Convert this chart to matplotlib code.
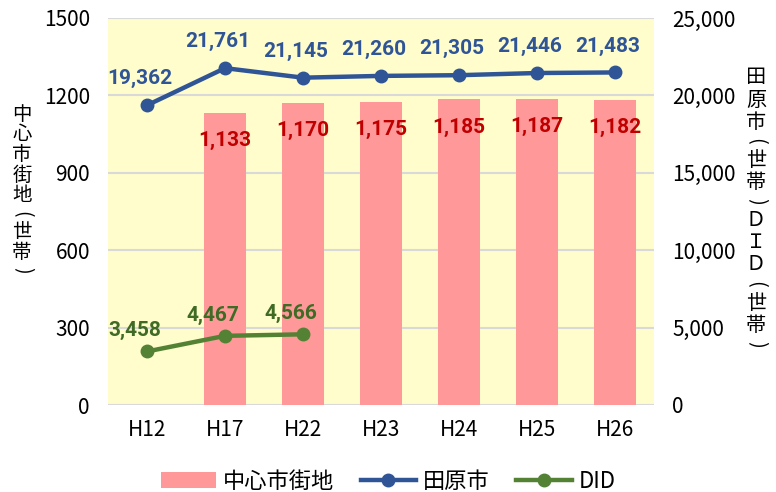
import matplotlib
matplotlib.use("Agg")
import matplotlib.pyplot as plt
import numpy as np

plt.rcParams["font.family"] = ["Noto Sans CJK JP", "DejaVu Sans"]

# --- Data ---
years = ["H12", "H17", "H22", "H23", "H24", "H25", "H26"]
center_hh = [np.nan, 1133, 1170, 1175, 1185, 1187, 1182]      # 中心市街地 (left axis)
tahara_hh = [19362, 21761, 21145, 21260, 21305, 21446, 21483]  # 田原市 (right axis)
did_hh = [3458, 4467, 4566]                                    # DID (right axis), H12-H22 only

left_ticks = [0, 300, 600, 900, 1200, 1500]
right_ticks = [0, 5000, 10000, 15000, 20000, 25000]

BAR = "#FF9999"
BLUE = "#2F5597"
GREEN = "#548235"
LABEL_FONT = ["Roboto", "DejaVu Sans"]
W, H = 776, 492


def vertical_title(chars, x_px, y_top_px, pitch, size):
    # stack characters top-to-bottom; brackets are rotated half-width parens
    weights = [0.75 if c in "()" else 1.0 for c in chars]
    y = y_top_px
    for i, c in enumerate(chars):
        if i > 0:
            y += (weights[i - 1] + weights[i]) / 2 * pitch
        rot = -90 if c in "()" else 0
        fig.text(x_px / W, 1 - y / H, c, ha="center", va="center", fontsize=size,
                 rotation=rot)


fig = plt.figure(figsize=(W / 100, H / 100), dpi=100)
ax = fig.add_axes([108 / W, 1 - 405 / H, 546 / W, 387 / H])
ax2 = ax.twinx()

x = np.arange(len(years))

# --- Bars (left axis) ---
ax.set_facecolor("#FFFDCC")
ax.bar(x, center_hh, width=0.55, color=BAR, zorder=2, label="中心市街地")
for xi, v in zip(x, center_hh):
    if np.isnan(v):
        continue
    ax.annotate(f"{int(v):,}", (xi, v), xytext=(0, -20), textcoords="offset points",
                ha="center", va="center", color="#C00000", fontsize=15,
                fontweight="bold", family=LABEL_FONT, zorder=3)
ax.set_xlim(-0.5, len(years) - 0.5)
ax.set_ylim(0, 1500)
ax.set_yticks(left_ticks)
ax.set_yticklabels([str(t) for t in left_ticks])
ax.set_xticks(x)
ax.set_xticklabels(years)
ax.grid(axis="y", color="#D9D9D9", linewidth=1.5, zorder=1)
ax.set_axisbelow(True)

# --- Lines (right axis) ---
ax2.plot(x, tahara_hh, color=BLUE, linewidth=3.2, marker="o", markersize=9,
         zorder=4, label="田原市")
ax2.plot(x[:len(did_hh)], did_hh, color=GREEN, linewidth=3.2, marker="o", markersize=9,
         zorder=4, label="DID")
for xi, v in zip(x, tahara_hh):
    ax2.annotate(f"{v:,}", (xi, v), xytext=(-5, 19), textcoords="offset points",
                 ha="center", va="center", color=BLUE, fontsize=15,
                 fontweight="bold", family=LABEL_FONT)
for xi, v in zip(x, did_hh):
    ax2.annotate(f"{v:,}", (xi, v), xytext=(-9, 15), textcoords="offset points",
                 ha="center", va="center", color="#3F6B25", fontsize=15,
                 fontweight="bold", family=LABEL_FONT)
ax2.set_ylim(0, 25000)
ax2.set_yticks(right_ticks)
ax2.set_yticklabels([f"{t:,}" for t in right_ticks])

for a in (ax, ax2):
    for s in a.spines.values():
        s.set_visible(False)
    a.tick_params(length=0, labelsize=15)
ax.tick_params(axis="y", pad=13)
ax.tick_params(axis="x", pad=10)
ax2.tick_params(axis="y", pad=13)

# --- Vertical axis titles ---
vertical_title(list("中心市街地(世帯)"), 22, 114, 20.5, 14)
vertical_title(list("田原市(世帯)ＤＩＤ(世帯)"), 756, 78, 22, 14.5)

# --- Legend ---
h1, l1 = ax.get_legend_handles_labels()
h2, l2 = ax2.get_legend_handles_labels()
fig.legend(h1 + h2, l1 + l2, loc="center", bbox_to_anchor=(0.5, 1 - 481 / H),
           ncol=3, frameon=False, fontsize=16, handlelength=2.5, columnspacing=1.2,
           handletextpad=0.3)

fig.savefig("out.png", dpi=100)
